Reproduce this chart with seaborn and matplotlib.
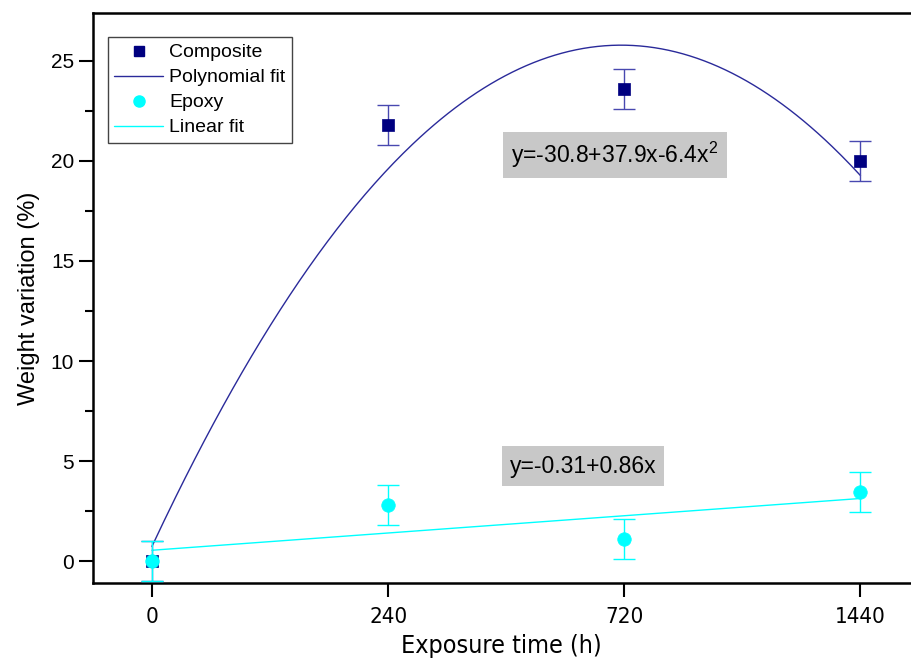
import numpy as np
import pandas as pd
import matplotlib
matplotlib.use("Agg")
import matplotlib.pyplot as plt
import seaborn as sns
from matplotlib import font_manager
from matplotlib.lines import Line2D

# ---- data ----
time_labels = ["0", "240", "720", "1440"]
positions = [1, 2, 3, 4]
composite = [0.0, 21.8, 23.6, 20.0]
composite_err = [1.0, 1.0, 1.0, 1.0]
epoxy = [0.0, 2.8, 1.08, 3.45]
epoxy_err = [1.0, 1.0, 1.0, 1.0]
poly_eq = "y=-30.8+37.9x-6.4x$^2$"
lin_eq = "y=-0.31+0.86x"

sns.set_style("ticks")
fonts = font_manager.fontManager.ttflist
names = {f.name for f in fonts}
base = "Liberation Sans" if "Liberation Sans" in names else "DejaVu Sans"
narrow_prop = None
for f in fonts:
    if "Narrow" in f.name or "Condensed" in f.name or str(f.stretch) in ("condensed", "semi-condensed", "75", "87"):
        if "Bold" not in f.fname and "Oblique" not in f.fname and "Italic" not in f.fname:
            narrow_prop = font_manager.FontProperties(fname=f.fname)
            break

plt.rcParams["font.family"] = [base, "DejaVu Sans"]
plt.rcParams["mathtext.fontset"] = "custom"
plt.rcParams["mathtext.rm"] = base
for k in ["text.color", "axes.labelcolor", "xtick.color", "ytick.color", "axes.edgecolor"]:
    plt.rcParams[k] = "black"

navy = "#000080"
navy_line = "#2a2a9a"
cyan = "#00ffff"

fig = plt.figure(figsize=(9.11, 6.59), dpi=100)
ax = fig.add_axes([0.102, 0.1153, 0.897, 0.8650])

df = pd.DataFrame({"x": positions, "composite": composite, "epoxy": epoxy,
                   "cerr": composite_err, "eerr": epoxy_err})

# fits computed from the data
xs = np.linspace(1, 4, 300)
pc = np.polyfit(df["x"], df["composite"], 2)
pe = np.polyfit(df["x"], df["epoxy"], 1)
fit_df = pd.DataFrame({"x": xs, "poly": np.polyval(pc, xs), "lin": np.polyval(pe, xs)})

sns.lineplot(data=fit_df, x="x", y="poly", ax=ax, color=navy_line, lw=1.0, zorder=2)
sns.lineplot(data=fit_df, x="x", y="lin", ax=ax, color=cyan, lw=1.0, zorder=2)

ax.errorbar(df["x"], df["composite"], yerr=df["cerr"], fmt="none",
            ecolor="#4848b0", elinewidth=1.0, capsize=8, capthick=1.0, zorder=3)
sns.scatterplot(data=df, x="x", y="composite", ax=ax, marker="s", s=75,
                color=navy, edgecolor=navy, linewidth=0.5, zorder=4)
ax.errorbar(df["x"], df["epoxy"], yerr=df["eerr"], fmt="none",
            ecolor=cyan, elinewidth=1.0, capsize=8, capthick=1.0, zorder=5)
sns.scatterplot(data=df, x="x", y="epoxy", ax=ax, marker="o", s=95,
                color=cyan, edgecolor=cyan, linewidth=0.5, zorder=6)

ax.set_xlim(0.75, 4.21)
ax.set_ylim(-1.1, 27.4)
ax.set_xticks(positions)
ax.set_xticklabels(time_labels)
ax.set_yticks([0, 5, 10, 15, 20, 25])
ax.set_yticks(np.arange(2.5, 27.5, 5), minor=True)
ax.tick_params(axis="y", which="major", labelsize=15, length=10, width=1.5, direction="out")
ax.tick_params(axis="y", which="minor", length=6, width=1.5, direction="out")
ax.tick_params(axis="x", which="major", length=10, width=1.5, direction="out", pad=7)
for lab in ax.get_xticklabels():
    if narrow_prop is not None:
        lab.set_fontproperties(narrow_prop)
    lab.set_fontsize(16)
for s in ax.spines.values():
    s.set_linewidth(1.8)
ax.spines["right"].set_visible(False)

ax.set_xlabel("Exposure time (h)", fontsize=18, labelpad=5)
if narrow_prop is not None:
    ax.xaxis.label.set_fontproperties(narrow_prop)
    ax.xaxis.label.set_fontsize(18)
ax.set_ylabel("Weight variation (%)", fontsize=17, labelpad=8)

handles = [
    Line2D([], [], marker="s", color=navy, ls="none", markersize=7),
    Line2D([], [], color=navy_line, lw=1.0),
    Line2D([], [], marker="o", color=cyan, ls="none", markersize=8),
    Line2D([], [], color=cyan, lw=1.0),
]
leg = ax.legend(handles, ["Composite", "Polynomial fit", "Epoxy", "Linear fit"],
                loc="upper left", bbox_to_anchor=(0.018, 0.958), fontsize=14,
                fancybox=False, framealpha=1, edgecolor="#444444",
                handlelength=2.5, handletextpad=0.3, labelspacing=0.38,
                borderpad=0.35, borderaxespad=0)
leg.get_frame().set_linewidth(1.0)

box = dict(boxstyle="square,pad=0.35", facecolor="#c8c8c8", edgecolor="none")
ax.text(2.96, 20.3, poly_eq, fontsize=16.5, ha="center", va="center", bbox=box)
ax.text(2.825, 4.75, lin_eq, fontsize=16.5, ha="center", va="center", bbox=box)

fig.savefig("out.png", dpi=100)
